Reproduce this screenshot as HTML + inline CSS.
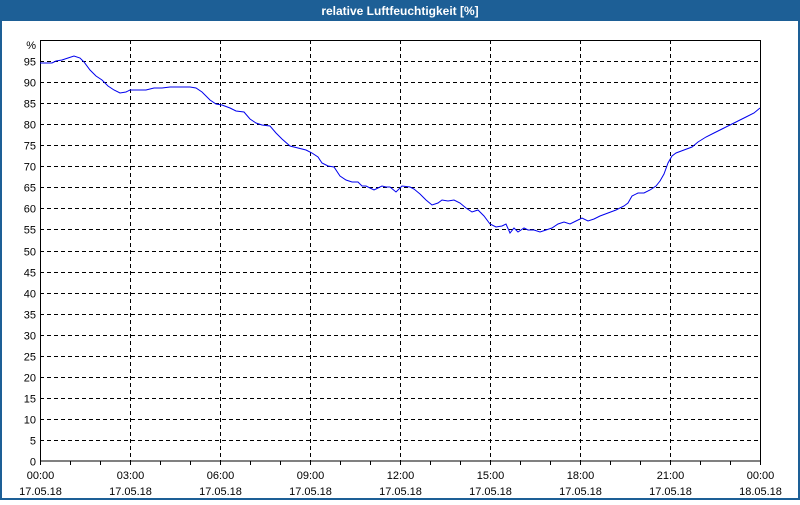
<!DOCTYPE html>
<html><head><meta charset="utf-8"><style>
body{margin:0;width:800px;height:500px;overflow:hidden;background:#fff;font-family:"Liberation Sans",sans-serif}
</style></head><body>
<svg width="800" height="500" xmlns="http://www.w3.org/2000/svg" font-family="Liberation Sans, sans-serif" font-size="11">
<rect x="0" y="0" width="800" height="500" fill="#fff"/>
<rect x="0" y="0" width="800" height="21" fill="#1d5f96"/>
<rect x="0" y="0" width="2" height="500" fill="#1d5f96"/>
<rect x="798" y="0" width="2" height="500" fill="#1d5f96"/>
<rect x="0" y="498" width="800" height="2" fill="#1d5f96"/>
<text x="400" y="15" fill="#fff" font-weight="bold" font-size="12" text-anchor="middle">relative Luftfeuchtigkeit [%]</text>
<g id="grid" stroke="#000" stroke-width="1" stroke-dasharray="4,3" shape-rendering="crispEdges">
</g>
<g id="lbl"></g>
<rect x="40.5" y="40.5" width="720" height="420.5" fill="none" stroke="#000" shape-rendering="crispEdges"/>
<text x="36" y="49" text-anchor="end">%</text>
<polyline fill="none" stroke="#0000ee" stroke-width="1" points="40,63 52,63 56,61 62,60 68,58 74,56 80,58 84,62 90,70 96,76 102,80 108,86 114,90 120,93 126,92 130,90 146,90 154,88 162,88 170,87 190,87 196,88 202,92 210,100 216,104 222,105 230,108 236,111 244,112 250,119 256,123 262,125 270,126 276,133 282,139 290,146 298,148 306,150 312,153 318,157 322,163 328,166 334,167 340,176 346,180 352,182 358,182 362,186 366,186 370,188 374,190 378,188 382,186 386,187 390,187 396,192 402,186 410,187 414,189 420,194 426,200 432,205 438,203 442,200 448,201 454,200 460,203 466,208 472,212 478,210 484,216 490,224 496,227 502,226 506,224 510,233 514,228 518,232 524,228 528,230 534,230 540,232 546,230 552,228 558,224 564,222 570,224 576,221 582,218 588,221 594,219 600,216 608,213 616,210 624,206 628,203 632,196 638,193 644,193 650,190 656,186 660,181 664,174 668,163 672,156 676,153 684,150 692,147 698,142 706,137 714,133 722,129 730,125 738,121 746,117 754,113 760,108"/>
</svg>
<script>
const ns="http://www.w3.org/2000/svg",g=document.getElementById('grid'),l=document.getElementById('lbl');
function el(p,t,a,txt){const e=document.createElementNS(ns,t);for(const k in a)e.setAttribute(k,a[k]);if(txt)e.textContent=txt;p.appendChild(e);}
for(let v=0;v<=95;v+=5){const y=Math.round(461-v*4.21)+0.5;if(v>0)el(g,'line',{x1:40,x2:760,y1:y,y2:y});el(l,'text',{x:36,y:y+4,'text-anchor':'end'},String(v));}
const hs=["00:00","03:00","06:00","09:00","12:00","15:00","18:00","21:00","00:00"];
for(let i=0;i<=8;i++){const x=40+i*90+0.5;if(i>0&&i<8)el(g,'line',{x1:x,x2:x,y1:40,y2:461});
el(l,'text',{x:x,y:479,'text-anchor':'middle'},hs[i]);el(l,'text',{x:x,y:495,'text-anchor':'middle'},i==8?"18.05.18":"17.05.18");}
for(let h=0;h<=24;h++){const x=40+h*30+0.5;el(l,'line',{x1:x,x2:x,y1:461,y2:465,stroke:'#000','shape-rendering':'crispEdges'});}
</script>
</body></html>
